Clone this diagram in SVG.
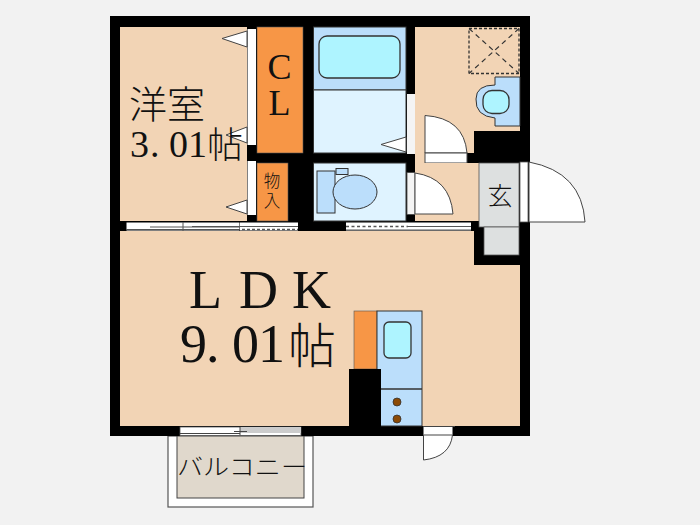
<svg xmlns="http://www.w3.org/2000/svg" width="700" height="525" viewBox="0 0 700 525">
<style>
.w{fill:#000}
.tan{fill:#f2d4b5}
.or{fill:#f79646;stroke:#555;stroke-width:.6}
.bl{fill:#bbdefb;stroke:#333;stroke-width:1}
.lb{fill:#dff3ff;stroke:#333;stroke-width:1}
.cy{fill:#aef4ff;stroke:#333;stroke-width:1.3}
.wh{fill:#fff;stroke:#444;stroke-width:1}
.gr{fill:#dde0e0;stroke:#555;stroke-width:.8}
.t{font-family:"Liberation Serif","Noto Sans CJK JP",serif;fill:#111}
.j{font-family:"Noto Sans CJK JP",serif;fill:#111;font-weight:300}
</style>
<rect width="700" height="525" fill="#f2f2f2"/>
<g id="balcony">
<rect x="168" y="436" width="145" height="71" fill="#fff" stroke="#555" stroke-width="1.2"/>
<rect x="177" y="436" width="127" height="62" fill="#e0d8cc" stroke="#444" stroke-width="1"/>
<text class="j" x="177" y="475" font-size="23" textLength="130" lengthAdjust="spacingAndGlyphs">バルコニー</text>
</g>
<g id="walls">
<rect class="w" x="110" y="16" width="420" height="420"/>
</g>
<g id="room-western">
<rect class="tan" x="120" y="27" width="127" height="194"/>
<rect x="247.500" y="29" width="8.500" height="116" fill="#fff"/>
<rect x="247.500" y="161" width="8.500" height="54" fill="#fff"/>
<path class="wh" d="M247 31L222 38.500L247 47Z"/>
<path class="wh" d="M247 127L226 135L247 143Z"/>
<path class="wh" d="M247 200L226 207L247 214Z"/>
<text class="j" x="129" y="118" font-size="38">洋室</text>
<text class="t" x="130 150 169 188" y="157" font-size="38">3.01</text>
<text class="j" x="207" y="158" font-size="36">帖</text>
</g>
<g id="closet-cl">
<rect class="or" x="257" y="27" width="46" height="126"/>
<text class="t" x="279.500" y="79" font-size="36" text-anchor="middle">C</text>
<text class="t" x="279.500" y="115" font-size="36" text-anchor="middle">L</text>
</g>
<g id="closet-storage">
<rect class="or" x="257" y="163" width="31" height="58"/>
<text class="j" x="272" y="187" font-size="16.500" text-anchor="middle">物</text>
<text class="j" x="272" y="207" font-size="16.500" text-anchor="middle">入</text>
</g>
<g id="bath">
<rect class="bl" x="313.500" y="27" width="92.500" height="63"/>
<rect class="cy" x="319" y="36" width="81" height="42" rx="8"/>
<rect class="lb" x="313.500" y="90" width="92.500" height="63"/>
<rect x="407" y="94" width="8" height="60" fill="#f4f4f4"/>
<path class="wh" d="M406 137L381 144.500L406 152Z"/>
</g>
<g id="washroom">
<path class="tan" d="M415 27H520V131H474V153H415Z"/>
<path class="tan" d="M415 153H425V163H415Z"/>
<rect x="469" y="28.500" width="50" height="45" fill="none" stroke="#333" stroke-width="1.300" stroke-dasharray="3 2"/>
<path d="M469 28.500L519 73.500M519 28.500L469 73.500" fill="none" stroke="#333" stroke-width="1.200" stroke-dasharray="5 4"/>
<path class="bl" d="M495 77H520V126H495V118Q475 116 476 99Q476 85 495 85Z"/>
<rect class="cy" x="483" y="90.500" width="26" height="23" rx="9"/>
<path class="wh" d="M425 115.500Q464 118 467 153H425Z"/>
<rect class="wh" x="425" y="153" width="42" height="10"/>
</g>
<g id="toilet">
<rect class="lb" x="313.500" y="163" width="92.500" height="58"/>
<rect x="407" y="172.500" width="8" height="42" fill="#f4f4f4" stroke="#444" stroke-width=".8"/>
<rect class="bl" x="317" y="171" width="18" height="42"/>
<rect class="bl" x="336" y="168.500" width="12" height="6"/>
<ellipse class="bl" cx="355" cy="192" rx="22" ry="17"/>
</g>
<g id="hall">
<rect class="tan" x="415" y="163" width="64" height="58"/>
<path class="wh" d="M415 173Q450 178 453 214H415Z"/>
</g>
<g id="entrance">
<rect class="gr" x="479" y="163" width="40" height="64"/>
<rect class="gr" x="484" y="227" width="35" height="28"/>
<rect x="520" y="162" width="8" height="60" fill="#fff" stroke="#555" stroke-width=".8"/>
<path class="wh" d="M529 162Q582 172 585 222H529Z"/>
<text class="j" x="500" y="205" font-size="25" text-anchor="middle">玄</text>
</g>
<g id="room-ldk">
<path class="tan" d="M120 231H474V265H520V426H120Z"/>
<text class="t" x="189 239 292" y="308" font-size="54">LDK</text>
<text class="t" x="180 206 232 258" y="362" font-size="54">9.01</text>
<text class="j" x="288" y="363" font-size="48">帖</text>
</g>
<g id="kitchen">
<rect class="or" x="354" y="311" width="23" height="58"/>
<rect class="bl" x="377" y="311" width="45" height="115"/>
<rect class="cy" x="384" y="322" width="27" height="36" rx="5"/>
<path d="M381 389H422" stroke="#333" stroke-width="1.500"/>
<circle cx="397" cy="402" r="4" fill="#8b4a06" stroke="#333" stroke-width=".8"/>
<circle cx="397" cy="419" r="4" fill="#8b4a06" stroke="#333" stroke-width=".8"/>
<rect class="w" x="349" y="369" width="32" height="67"/>
</g>
<g id="openings">
<rect x="126.500" y="222.500" width="113" height="8" fill="#fff"/>
<path d="M126 229.500H240M150 227H240M183 222V231" stroke="#555" stroke-width="1" fill="none"/>
<rect x="240" y="222.500" width="58" height="8" fill="#fff"/>
<path d="M192 226.500H298" stroke="#555" stroke-width="1" fill="none"/>
<path d="M242 229.500H298" stroke="#555" stroke-width="1.500" stroke-dasharray="3 2"/>
<rect x="346" y="222.500" width="125" height="8" fill="#fff"/>
<path d="M346 226.500H408" stroke="#555" stroke-width="1.500" stroke-dasharray="3 2.500"/>
<path d="M408 226.500H471M346 230H471" stroke="#555" stroke-width="1"/>
<rect x="180" y="427" width="121" height="8.500" fill="#fff" stroke="#555" stroke-width=".8"/>
<rect x="240" y="427" width="61" height="6" fill="#ccc"/>
<path d="M180 433.500H240M234 431.500H247M240 427V435" stroke="#444" stroke-width="1" fill="none"/>
<rect x="423.500" y="426.500" width="29" height="8.500" fill="#fff"/>
<path d="M423.500 426.500H455M452.500 435Q450 457 423.500 460V435Z" fill="#fff" stroke="#444" stroke-width="1"/>
</g>
</svg>
